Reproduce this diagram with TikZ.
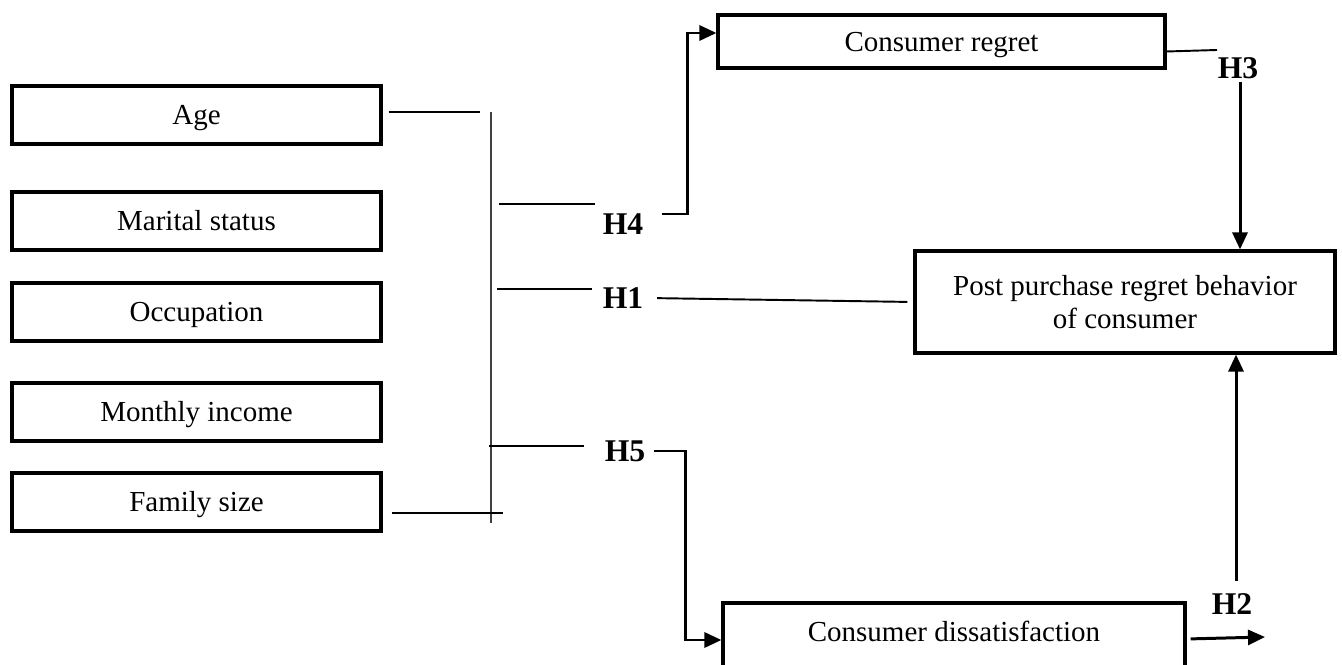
\documentclass[tikz,border=0pt]{standalone}
\usepackage{fontspec}
\setmainfont{Liberation Serif}
\usetikzlibrary{arrows.meta}

\begin{document}
\begin{tikzpicture}[
    x=0.02cm, y=-0.02cm,
    every node/.style={font=\fontsize{16.5}{19}\selectfont},
    factor/.style={draw, line width=1.8pt, minimum width=7.38cm, minimum height=1.16cm, inner sep=0pt, text height=10.9pt, text depth=0pt},
    outbox/.style={draw, line width=1.8pt, align=center, inner sep=0pt},
    hyp/.style={font=\fontsize{18}{21}\selectfont\bfseries, inner sep=2pt},
    link/.style={line width=1.1pt},
    bus/.style={line width=0.9pt, black!75},
    flow/.style={-{Triangle[length=0.34cm, width=0.3cm]}, line width=1.7pt}
]
\useasboundingbox (0,0) rectangle (1342,665);
% demographic factors
\node[factor] (age) at (196.5,115) {Age};
\node[factor] (marital) at (196.5,221) {Marital status};
\node[factor] (occupation) at (196.5,312) {Occupation};
\node[factor] (income) at (196.5,412) {Monthly income};
\node[factor] (family) at (196.5,502) {Family size};
% outcomes
\node[outbox, minimum width=8.94cm, minimum height=1.06cm, text height=10.9pt, text depth=0pt] (regret) at (941.5,41.5) {Consumer regret};
\node[outbox, minimum width=8.4cm, minimum height=2.04cm] (post) at (1125,302) {Post purchase regret behavior\\of consumer};
\node[outbox, minimum width=9.24cm, minimum height=1.44cm, text height=10.9pt, text depth=8.1pt] (dissat) at (954,639) {Consumer dissatisfaction};
% hypotheses
\node[hyp] (h4) at (623,224) {H4};
\node[hyp] (h1) at (623,298) {H1};
\node[hyp] (h5) at (625,451) {H5};
\node[hyp] (h3) at (1238,68) {H3};
\node[hyp] (h2) at (1232,604) {H2};
\coordinate (busTop) at (491,112);
\coordinate (busBot) at (491,523);
\coordinate (famTap) at (503,513);
\coordinate (h4in) at (595,204);
\coordinate (h1in) at (592,289);
\coordinate (h5in) at (584,446);
\coordinate (h3in) at (1217,50);
\coordinate (h4bend) at (687,33);
\coordinate (h5bend) at (685,640);
\coordinate (h2end) at (1265,637);
\draw[bus] (busTop) -- (busBot);
\draw[link, shorten <=0.12cm, shorten >=0.22cm] (age.east |- busTop) -- (busTop);
\draw[link, shorten <=0.18cm] (family.east |- famTap) -- (famTap);
\draw[link, shorten <=0.16cm] (busTop |- h4in) -- (h4in);
\draw[link, shorten <=0.12cm] (busTop |- h1in) -- (h1in);
\draw[link, shorten <=-0.04cm] (busTop |- h5in) -- (h5in);
\draw[link, shorten <=0.2cm, shorten >=0.12cm] (h1.east) -- (post.west);
\draw[flow, shorten <=0.3cm] ([yshift=0.2cm]h4.east) -| (h4bend) -- (h4bend -| regret.west);
\draw[flow, shorten <=0.1cm] (h5.east) -| (h5bend) -- (h5bend -| dissat.west);
\draw[link] ([yshift=-0.2cm]regret.east) -- (h3in);
\draw[flow] ([xshift=0.04cm]h3.south) -- ([xshift=0.04cm]h3.south |- post.north);
\draw[flow, shorten <=0.08cm] (dissat.east) -- (h2end);
\draw[flow] ([xshift=0.08cm, yshift=0.18cm]h2.north) -- ([xshift=0.08cm]h2.north |- post.south);
\end{tikzpicture}
\end{document}
